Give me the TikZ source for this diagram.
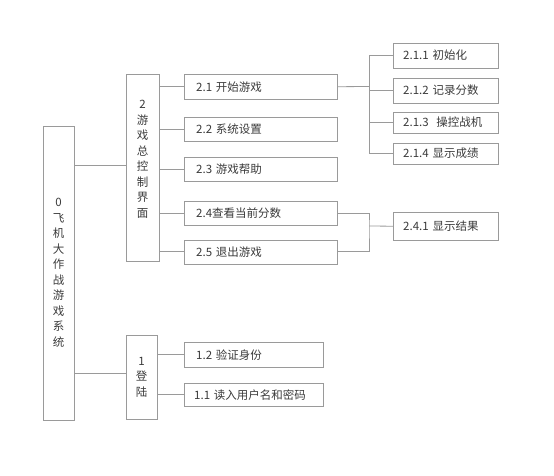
\documentclass[tikz,border=0pt]{standalone}
\usepackage{fontspec}
\setmainfont{Noto Sans CJK SC}
\usepackage{tikz}
\usetikzlibrary{positioning, calc}

\definecolor{linegray}{HTML}{9A9A9A}
\definecolor{textgray}{HTML}{3A3A3A}

\begin{document}
\begin{tikzpicture}[x=1pt, y=-1pt]
% 定义节点样式
\tikzstyle{column} = [rectangle, draw=linegray, text=textgray, align=center, inner sep=0pt, font=\fontsize{11.5}{15.5}\selectfont]
\tikzstyle{item} = [rectangle, draw=linegray, text=textgray, anchor=north west, inner xsep=10pt, inner ysep=0pt, align=left, font=\fontsize{11.5}{14}\selectfont]
\tikzstyle{line} = [draw=linegray, line width=0.8pt]

\useasboundingbox (0,0) rectangle (554,475);

% 竖排方框
\node [column, minimum width=31pt, minimum height=294pt] (root) at (58.5,273) {0\\飞\\机\\大\\作\\战\\游\\戏\\系\\统};
\node [column, minimum width=33pt, minimum height=187pt] (ctrl) at (142.5,167.5) {2\\游\\戏\\总\\控\\制\\界\\面\\[2pt]};
\node [column, minimum width=31pt, minimum height=84pt] (login) at (141.5,377) {1\\登\\陆};

% 第二层
\node [item, text width=133pt, minimum height=25pt] (start) at (184,74) {\hspace{2pt}2.1 开始游戏};
\node [item, text width=133pt, minimum height=24pt, below=18pt of start.south west, anchor=north west] (setup) {\hspace{2pt}2.2 系统设置};
\node [item, text width=133pt, minimum height=24pt, below=15pt of setup.south west, anchor=north west] (help) {\hspace{2pt}2.3 游戏帮助};
\node [item, text width=133pt, minimum height=24pt, below=20pt of help.south west, anchor=north west] (score) {\hspace{2pt}2.4查看当前分数};
\node [item, text width=133pt, minimum height=24pt, below=14pt of score.south west, anchor=north west] (quit) {\hspace{2pt}2.5 退出游戏};
\node [item, text width=119pt, minimum height=25pt] (verify) at (184,342) {\hspace{2pt}1.2 验证身份};
\node [item, text width=119pt, minimum height=23pt] (read) at (184,383) {1.1 读入用户名和密码};

% 第三层
\node [item, text width=85pt, minimum height=24.5pt] (init) at (393,43) {2.1.1 初始化};
\node [item, text width=85pt, minimum height=24.5pt] (record) at (393,78) {2.1.2 记录分数};
\node [item, text width=85pt, minimum height=20.5pt] (fly) at (393,112) {2.1.3\ \ 操控战机};
\node [item, text width=85pt, minimum height=20.5pt] (show) at (393,143) {2.1.4 显示成绩};
\node [item, text width=85pt, minimum height=28pt] (result) at (393,212) {2.4.1 显示结果};

% 连接节点
\path [line] (root.east |- 0,165) -- (ctrl.west |- 0,165);
\path [line] (root.east |- 0,373) -- (login.west |- 0,373);
\foreach \c in {start, setup, help, score, quit}
  \path [line] (ctrl.east |- \c.west) -- (\c.west);
\foreach \c in {verify, read}
  \path [line] (login.east |- \c.west) -- (\c.west);

\coordinate (j21) at (369,86.5);
\path [line] (start.east) -- (j21);
\foreach \c in {init, record, fly, show}
  \path [line] (j21) |- (\c.west);

\coordinate (j24) at (369,226);
\path [line] (score.east) -| (j24) |- (quit.east);
\path [line] (j24) -- (result.west);
\end{tikzpicture}
\end{document}
